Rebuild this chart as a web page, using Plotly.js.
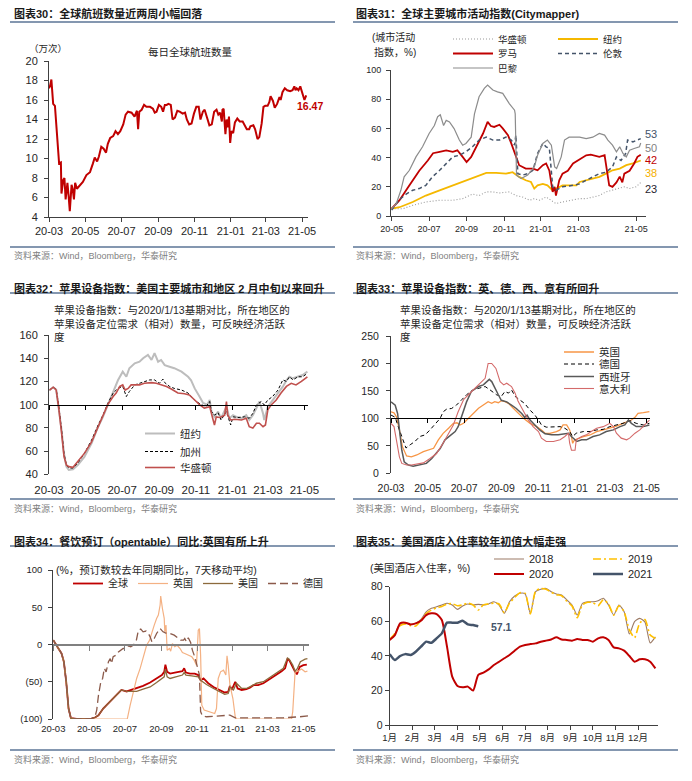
<!DOCTYPE html>
<html><head><meta charset="utf-8">
<script src="https://cdn.plot.ly/plotly-3.0.1.min.js"></script>
<style>html,body{margin:0;padding:0;background:#fff}#chart{width:692px;height:781px}</style>
</head><body><div id="chart"></div>
<script>
// ---------------- DATA ----------------
// Panel 30: daily global flights (万次), x = days since 2020-03-01
const p1Days=[0,2,4,7,10,12,15,17,20,21,24,26,28,31,33,35,38,40,42,44,47,52,57,63,69,74,77,81,84,88,92,96,99,103,108,112,116,120,125,129,133,139,144,148,150,152,156,160,164,170,175,178,181,185,189,192,195,198,201,205,208,212,216,220,225,229,232,236,240,244,248,252,255,259,262,266,270,274,278,282,285,288,291,292,294,297,299,301,303,305,307,310,313,317,321,326,330,333,337,339,344,347,351,354,358,361,364,368,371,373,377,380,384,388,390,393,397,401,406,410,413,415,417,420,423,425,428,430,433];
const p1Flights=[17.2,17.5,18.1,15.6,15.4,13.5,10.5,9.5,9.6,6.4,7.8,8.0,5.8,7.5,6.2,4.6,7.3,6.8,5.8,7.5,6.9,7.3,7.6,8.3,8.6,9.5,10.1,9.7,10.2,11.2,11.0,10.6,11.5,12.1,12.3,12.8,12.5,12.8,13.5,14.5,14.8,14.7,14.3,14.9,13.0,14.8,15.0,15.5,15.3,15.3,15.1,14.7,14.8,15.5,15.3,14.8,15.5,15.5,15.6,15.5,14.0,14.2,14.9,14.8,14.6,14.7,14.0,13.5,13.6,14.6,15.3,15.3,14.0,14.8,15.0,14.2,13.4,13.5,14.8,15.0,14.5,14.7,13.8,15.0,15.1,12.5,14.0,13.2,14.3,11.6,12.8,12.6,13.7,14.1,13.8,13.8,13.4,13.0,13.0,13.3,13.4,13.0,12.0,12.2,13.6,15.3,15.4,15.4,15.8,16.4,15.9,15.2,15.6,16.3,16.0,16.8,17.2,17.0,16.9,17.0,17.4,17.0,17.2,17.0,17.4,17.0,16.4,16.0,16.47];

// Panel 31: Citymapper index, x = days since 2020-05-01
const p2WasDays=[1,18,33,53,74,94,109,124,134,145,155,165,180,190,200,211,218,226,236,246,251,261,277,287,297,307,317,327,337,348,355,363,373,380];
const p2Was=[5,5,7.3,9.6,10.8,10.8,11.9,15,14,16.5,16.5,15.8,16.5,14,13,10.8,11.9,10.8,13,9.6,8.5,9.6,10.8,11.9,11.9,13,14,16.5,17.6,18.8,20,18.8,20,23];
const p2NyDays=[1,13,33,53,74,94,114,134,145,160,175,185,195,205,213,218,223,231,238,246,251,261,271,282,287,297,307,317,327,337,348,358,368,378,380];
const p2Ny=[5,6,9.6,14,17.6,21,24.5,28,29.5,29.5,29,30,26.8,24.5,23.3,18.8,21,22,21,17.6,18.8,21,21,21,23.3,24.5,25.6,26.8,29,31.3,32.5,34.8,36,37.5,38];
const p2RomeDays=[1,13,25,33,43,56,64,74,84,94,101,109,115,122,129,140,147,152,157,165,170,178,183,190,195,205,216,223,231,236,241,246,249,251,256,261,269,277,287,297,304,317,325,332,337,343,348,352,355,363,370,375,380];
const p2Rome=[5,10.8,19,24.5,31,38,43,44,45,44,45,40.5,37,40.5,47,56.5,64.5,61.6,61,62.5,60,55.4,49.7,40.5,34.8,32.5,32.5,31.3,34.8,36,31,16.5,20,14,24.5,29,31,36,39,41.6,42,40.5,41.6,21,20,23,27,23,29,31,36,40.5,42];
const p2LonDays=[1,8,15,23,33,43,53,63,74,84,94,104,114,124,134,145,155,165,175,183,188,190,193,200,208,216,223,231,236,241,246,251,261,277,287,297,307,317,327,337,343,350,357,360,368,375,380];
const p2Lon=[4,8.5,12,15,17.6,18.8,21,26.8,31.3,36,40.5,41.6,44,47.4,52,54,52,52,54,52,48.5,55.4,29,28,29,31.3,42.8,49.7,47.4,46.2,20,17.6,20,21,22,24.5,26.8,29,30,33.6,40.5,38,42.8,52,50.8,52,53];
const p2ParDays=[1,8,15,20,28,38,48,58,66,71,75,80,84,89,96,104,109,114,122,127,134,142,147,155,162,170,180,188,189,191,198,208,218,223,231,238,244,249,252,259,264,271,287,297,307,317,325,330,337,343,348,353,358,363,370,378,380];
const p2Par=[5,8.5,17.6,26.8,31.3,40.5,47.4,56.5,62,68,69.3,62,65.5,64.4,59.9,52,48.5,49.7,54,70,81.7,87.4,89.7,86.3,85,84,77,72.5,70,28,25.6,28,33.6,41.6,49.7,52,48.5,33.6,32.5,40.5,52,54,54,53,54,56.5,55.4,52,48.5,44,47.4,42.8,40.5,45,46.2,47.4,50];

// Panel 32: Apple mobility, US (x = days since 2020-03-01)
const p3NyDays=[1,7,12,16,21,25,29,33,40,48,59,71,82,90,98,107,115,123,129,134,143,151,157,165,171,176,182,187,193,201,209,221,232,237,243,251,257,264,268,271,276,282,287,296,301,307,312,321,329,334,340,346,351,357,359,365,373,382,390,396,401,407,415,423,431];
const p3Ny=[112.6,115,113,98.3,78,58,46.6,43.7,44.3,48,55,66.7,81,89.5,100,111,121,128.4,124,131.4,135.6,137,140,142.8,138.5,144.3,137,138.5,134,132.7,131.4,128.4,124,121,114,107,101.4,100,104,94,89.5,94,88.3,98.3,88.3,91,89.5,88.3,91,86.8,91,97,102.7,92.5,86.8,98.3,104,110,115.5,121,124,122.7,124,125.5,128.4];
const p3CaDays=[1,7,12,16,21,25,29,33,40,48,59,71,82,90,98,107,115,123,129,134,143,151,159,168,176,184,190,193,201,209,221,232,240,246,254,262,268,271,276,282,287,296,303,307,315,326,334,340,346,354,359,365,373,382,390,396,401,407,415,423,431];
const p3Ca=[112.6,115,113,99.7,78,58,48,45.4,45.4,49.5,58,69.5,82.5,91,101,110,114,115.7,107,111.3,117,118.4,120,121.3,121.3,118.4,122,119,115.7,114,112.6,110,105.5,102.7,100,98.3,102.7,94,91,93,86.8,94,82.5,89.5,88.9,89.5,88.3,92.5,99.7,102.7,99.7,104,107,112.6,121.3,120,124,121.3,124,124,127];
const p3WasDays=[1,7,12,16,21,25,29,33,40,48,59,71,82,90,98,107,112,118,123,127,132,137,143,151,159,171,179,187,196,204,215,226,234,243,251,259,268,273,276,279,285,293,296,298,303,310,321,329,334,340,346,351,357,361,365,371,379,387,396,404,412,421,431];
const p3Was=[112.6,115,112.6,98.3,75.5,55.3,48,46.6,46,51,58,68,81,89.5,100,107,110,115.7,117,112.6,114,117,117,117,118.4,119,118.4,117,115.7,113.5,110,109.4,108.4,104,100,97,98.3,88.3,82.5,89.5,89,91,102.7,91,86.8,87.4,86.8,88.3,81,79.8,84,84,81,82.5,95.5,100,104,110,115.7,118.4,117,120,124];

// Panel 33: Apple mobility, Europe (x = days since 2020-03-01)
const p4UkDays=[0,5,9,14,19,26,34,43,54,65,71,79,87,96,104,110,115,121,129,137,146,154,162,168,173,179,184,190,196,204,212,221,232,243,251,257,265,276,282,287,293,298,301,303,306,312,321,332,343,354,365,376,387,396,401,407,412,421,431];
const p4Uk=[112,110,103,79,48.5,31.5,30,33.4,39.4,42.5,45.5,60.7,72.8,82,91,92,88,91,100,109,118.3,124.4,130.5,127.4,130.5,128.6,132.3,130.5,127.4,118.3,109,100,91,85,79,72.8,72.8,75.8,79,88,88,79,66.7,54.6,60.7,63.7,66.7,69.8,75.8,79,82,86,91,94,97,102,109,110.4,112.3];
const p4DeDays=[0,7,12,18,25,32,40,48,57,65,73,82,87,93,101,109,118,126,137,148,157,165,176,184,190,196,201,207,215,223,232,240,246,251,259,271,282,290,298,303,309,321,332,343,354,365,376,387,398,409,421,431];
const p4De=[106,102,85,67,46,52,58,67,70,79,88,100,112,117,118,124,134,143,152,155,158,152,143,140,149,146,152,140,134,127,115,106,97,88,84,84,85,82,76,67,73,76,76,79,80,85,88,91,96,91,88,91];
const p4EsDays=[0,7,11,14,18,22,29,37,48,59,68,73,82,90,98,107,112,118,126,134,146,154,159,164,168,173,179,184,193,201,209,218,223,227,232,240,248,257,268,279,290,296,301,310,318,326,337,348,359,371,382,390,396,401,409,421,431];
const p4Es=[130,124,109,79,42,21,15,13,15,18,27,33,45,61,68,76,85,106,130,149,158,161,167,171,167,155,143,133,130,124,118,109,102,106,97,88,79,72,70,70,72,73,67,58,61,61,67,70,76,79,85,88,97,91,85,85,88];
const p4ItDays=[0,5,9,14,18,26,34,46,54,65,76,87,96,104,112,121,129,140,148,157,162,168,175,182,188,193,201,207,212,221,229,237,246,251,259,271,282,290,296,298,301,307,309,318,326,334,343,354,365,371,376,384,393,398,407,415,423,431];
const p4It=[91,85,61,30,18,15,15,18,19,27,36,55,73,88,112,134,143,155,164,173,200,200,191,167,161,164,158,146,131,112,97,85,76,64,58,58,61,67,73,55,42,42,61,67,70,76,82,85,91,85,73,64,61,64,73,79,88,97];

// Panel 34: OpenTable YoY (%), x = days since 2020-03-01
const p5GlbDays=[0,5,9,14,18,22,26,30,40,51,63,71,77,85,94,102,111,116,125,133,142,153,165,176,185,189,191,194,199,207,216,220,223,226,233,241,247,251,256,264,273,284,292,298,301,304,310,314,321,329,335,341,349,358,366,375,383,389,395,399,402,406,412,415,420,426,432];
const p5Glb=[5.8,-1,-5,-12,-23,-50,-86,-99,-100,-100,-100,-98,-95,-86,-79,-72,-66,-61,-63,-61,-59,-55.5,-51,-45.6,-41,-36.7,-27,-36.7,-39,-37.6,-36.7,-35.8,-32,-37.6,-39,-39,-41,-48,-45.6,-52,-57,-61,-64.4,-63.5,-55.5,-61,-50,-59,-61,-60,-58,-54.6,-54.6,-52,-48,-43.4,-39,-35.8,-32,-19.7,-21,-27.7,-36.7,-40,-30,-27.7,-27];
const p5UkDays=[0,5,9,14,18,22,26,30,40,126,131,136,142,148,154,159,164,168,172,176,179,182,183,186,189,190,192,194,198,200,203,207,211,216,220,224,230,236,240,244,247,249,251,253,257,267,275,278,281,285,290,294,296,298,301,306,310,312,406,408,412,417,423,429,433];
const p5Uk=[5.8,-1,-5,-12,-23,-50,-86,-99,-100,-100,-81.4,-63.5,-45.6,-32,-14.3,-1,5.8,17,26,35,39.4,53,65,48,35,17,26,-7.6,-5.4,-9,1.3,-3,-1,-5.4,-10.7,-12,-14.3,-16.5,-21,-27.7,19.2,21.5,-14.3,-81.4,-88,-90,-92.6,-86,-45.6,-36.7,-34.5,-41,-15.2,-27.7,-54.6,-72.5,-97,-100,-100,-90,-36.7,-35.8,-33,-36.7,-35.8];
const p5UsDays=[0,5,9,14,18,22,26,30,40,51,63,71,77,85,94,102,111,116,125,133,142,153,165,176,185,189,191,194,199,210,220,223,226,236,247,251,261,273,284,292,298,301,307,312,321,329,338,346,358,366,375,383,392,399,402,408,412,416,421,429,433];
const p5Us=[5.8,-1,-5,-12,-23,-50,-86,-99,-100,-100,-100,-98,-95,-86,-79,-72,-66,-61,-63,-63,-63,-60,-57,-51,-46.5,-43.4,-33,-43.4,-45.6,-43.4,-41,-37.6,-41,-42,-43.4,-48,-53.7,-59,-63.5,-67,-65.8,-57,-61,-52,-59,-59,-55.5,-52,-50,-45.6,-41,-36.7,-32,-18,-19.7,-27.7,-35.8,-32,-23,-19.7,-18.8];
const p5DeDays=[0,5,9,14,18,22,26,30,40,63,71,74,77,81,84,87,90,94,97,99,102,107,111,115,119,124,128,132,136,141,145,149,153,158,162,165,168,172,176,182,187,193,199,206,211,217,222,224,227,230,234,237,241,245,249,251,254,261,295,301,310,392,420,434];
const p5De=[5.8,-1,-5,-12,-23,-50,-86,-99,-100,-100,-97,-88,-68,-50,-45.6,-32,-36.7,-23,-19,-25.5,-16.5,-14.3,-10,-7.6,-5.4,-5.4,-1.8,-3,-1,3.6,19.2,20.6,17,18,14.8,10.3,3.6,8,14.8,21.5,17,14.8,14.8,12.5,9,5.8,5.8,8,3.6,9,2.7,-7.6,-16.5,-27.7,-41,-90,-95.7,-97,-95.7,-94.8,-98.4,-98.4,-97,-95.7];

// Panel 35: US hotel occupancy (%), x = week of year
const p6Weeks=[1,2,3,4,5,6,7,8,9,10,11,12,13,14,15,16,17,18,19,20,21,22,23,24,25,26,27,28,29,30,31,32,33,34,35,36,37,38,39,40,41,42,43,44,45,46,47,48,49,50,51,52];
const p6Y2018=[49.2,52.6,58.8,59.2,58.2,58.8,61.1,65.5,67.5,68.4,69.4,70.4,69.4,66.9,68.8,70,69.4,69.8,69.4,70,71.3,69.4,64.6,71.3,74.6,76.2,75.8,64.6,77.1,78.5,79,77.1,75.8,75.2,72.3,69.4,63.6,70.4,71.3,71.3,71.9,73.3,69.4,63.6,69.4,65.5,52.6,59.8,61.7,59.5,47.5,51];
const p6Y2019=[49.5,53,57.5,58.5,57.5,57.2,60.5,64.5,66.5,67.8,68.5,70,70.2,69,69.5,70.5,69.5,66.5,69.5,70,70.5,70,65,70.5,73.8,76.5,76.2,64.2,77.5,79,78.5,76.8,75.4,74.8,71.5,68.8,62,69.5,71,70.8,69,72.5,70,63.5,69,65.5,55,50.5,59,61,52,50];
const p6Y2020=[49.2,52,58.8,59.2,58.2,58.8,60.3,63.6,64.6,64.2,60.7,45.3,28,22.6,21.8,22.2,19.9,29,30.3,32.2,34.7,36.6,38.6,40.5,43,45.3,46.3,46.8,47.2,48.2,48.8,49.5,50.7,49.5,49.2,48.8,49.7,49.2,49.2,48.2,50.1,50.7,49.2,44.9,44.3,43,39.9,36.6,38,38,36.6,32.8];
const p6Weeks2021=[1,2,3,4,5,6,7,8,9,10,11,12,13,14,15,16,17,18];
const p6Y2021=[41,37.6,39.9,41,40.5,42.4,45.3,48.2,47.6,50.1,53,59.2,59.2,59.2,60.3,58.2,57.8,57.1];

// tick labels
const dayTicks20=[0,61,122,184,245,306,365,426];
const dayLabels20=['20-03','20-05','20-07','20-09','20-11','21-01','21-03','21-05'];
const p2TickDays=[1,58,115,172,228,285,373];
const p2TickLabels=['20-05','20-07','20-09','20-11','21-01','21-03','21-05'];
const p6TickWeeks=[1,5.33,9.67,14,18.33,22.67,27,31.33,35.67,40,44.33,48.67];
const p6TickLabels=['1月','2月','3月','4月','5月','6月','7月','8月','9月','10月','11月','12月'];

// ---------------- BUILD ----------------
const W=692,H=781;
const px=x=>x/W, py=y=>1-y/H;
const FONT='"Liberation Sans", Arial, "Noto Sans CJK SC", sans-serif';
const traces=[];
function add(x,y,name,color,width,dash,xa,ya,legend,shape){
  const t={type:'scatter',mode:'lines',x:x,y:y,name:name,
    line:{color:color,width:width,dash:dash||'solid',shape:shape||'linear',smoothing:0.6},
    xaxis:xa,yaxis:ya,hoverinfo:'skip',showlegend:!!legend};
  if(legend) t.legend=legend;
  traces.push(t);
}
// panel 1
add(p1Days,p1Flights,'每日全球航班数量','#C00000',2,null,'x','y');
// panel 2
add(p2WasDays,p2Was,'华盛顿','#9A9A9A',1.1,'1px,2px','x2','y2','legend');
add(p2NyDays,p2Ny,'纽约','#F5B800',1.8,null,'x2','y2','legend');
add(p2RomeDays,p2Rome,'罗马','#C00000',1.8,null,'x2','y2','legend2');
add(p2LonDays,p2Lon,'伦敦','#44546A',1.5,'4px,3px','x2','y2','legend2');
add(p2ParDays,p2Par,'巴黎','#8C8C8C',1.2,null,'x2','y2','legend3');
// panel 3
add(p3NyDays,p3Ny,'纽约','#BDBDBD',2,null,'x3','y3','legend4');
add(p3CaDays,p3Ca,'加州','#000000',1,'3px,2px','x3','y3','legend5');
add(p3WasDays,p3Was,'华盛顿','#C0504D',1.6,null,'x3','y3','legend6');
// panel 4
add(p4UkDays,p4Uk,'英国','#F79646',1.3,null,'x4','y4','legend7');
add(p4DeDays,p4De,'德国','#000000',1,'4px,3px','x4','y4','legend8');
add(p4EsDays,p4Es,'西班牙','#595959',1.5,null,'x4','y4','legend9');
add(p4ItDays,p4It,'意大利','#D46A6A',1.1,null,'x4','y4','legend10');
// panel 5
add(p5GlbDays,p5Glb,'全球','#C00000',1.8,null,'x5','y5','legend11');
add(p5UkDays,p5Uk,'英国','#F4B183',1.2,null,'x5','y5','legend11');
add(p5UsDays,p5Us,'美国','#8C6A3C',1.3,null,'x5','y5','legend11');
add(p5DeDays,p5De,'德国','#8B5A4A',1.3,'8px,4px','x5','y5','legend11');
// panel 6
add(p6Weeks,p6Y2018,'2018','#9C7B66',1.1,null,'x6','y6','legend12','spline');
add(p6Weeks,p6Y2019,'2019','#FFC000',1.6,'8px,3px,2px,3px','x6','y6','legend12','spline');
add(p6Weeks,p6Y2020,'2020','#C00000',2,null,'x6','y6','legend13','spline');
add(p6Weeks2021,p6Y2021,'2021','#44546A',2.5,null,'x6','y6','legend13','spline');
// empty traces to carry overlay axes (reference lines with tick marks)
traces.push({type:'scatter',x:[],y:[],xaxis:'x7',yaxis:'y3',showlegend:false,hoverinfo:'skip'});
traces.push({type:'scatter',x:[],y:[],xaxis:'x8',yaxis:'y4',showlegend:false,hoverinfo:'skip'});
traces.push({type:'scatter',x:[],y:[],xaxis:'x9',yaxis:'y5',showlegend:false,hoverinfo:'skip'});

function ax(o,fs){return Object.assign({showgrid:false,zeroline:false,fixedrange:true,showline:true,
  linecolor:'#404040',linewidth:1,ticks:'outside',ticklen:4,tickcolor:'#404040',tickwidth:1,
  tickfont:{family:FONT,size:fs||11,color:'#262626'}},o);}
function posAt(dom,range,v){return dom[0]+(v-range[0])/(range[1]-range[0])*(dom[1]-dom[0]);}

const d1x=[px(49),px(308)], d1y=[py(217),py(61)];
const d2x=[px(391),px(646)], d2y=[py(216),py(70)];
const d3x=[px(49),px(308)], d3y=[py(474.3),py(335)];
const d4x=[px(391),px(650)], d4y=[py(473.3),py(336)];
const d5x=[px(53.3),px(308.6)], d5y=[py(719),py(570)];
const d6x=[px(389.7),px(658)], d6y=[py(725),py(586.7)];
const r3y=[40,160], r4y=[0,250], r5y=[-100,100];

const layout={width:W,height:H,margin:{l:0,r:0,t:0,b:0},paper_bgcolor:'#fff',plot_bgcolor:'#fff',
  font:{family:FONT,color:'#262626'},showlegend:true,
  xaxis:ax({domain:d1x,range:[0,436],anchor:'y',tickvals:dayTicks20,ticktext:dayLabels20},11),
  yaxis:ax({domain:d1y,range:[4,20],anchor:'x',dtick:2,ticklabelstandoff:4},11),
  xaxis2:ax({domain:d2x,range:[0,388],anchor:'y2',tickvals:p2TickDays,ticktext:p2TickLabels},9),
  yaxis2:ax({domain:d2y,range:[0,100],anchor:'x2',dtick:20,ticklabelstandoff:3},9),
  xaxis3:ax({domain:d3x,range:[0,432],anchor:'y3',tickvals:dayTicks20,ticktext:dayLabels20,showline:false,ticks:'',ticklabelstandoff:7},11.5),
  yaxis3:ax({domain:d3y,range:r3y,anchor:'x3',dtick:20,ticklabelstandoff:4},11),
  xaxis4:ax({domain:d4x,range:[0,432],anchor:'y4',tickvals:dayTicks20,ticktext:dayLabels20,showline:false,ticks:'',ticklabelstandoff:7},10.5),
  yaxis4:ax({domain:d4y,range:r4y,anchor:'x4',dtick:50,ticklabelstandoff:5},10.5),
  xaxis5:ax({domain:d5x,range:[0,435],anchor:'y5',tickvals:dayTicks20,ticktext:dayLabels20,showline:false,ticks:'',ticklabelstandoff:2},9.5),
  yaxis5:ax({domain:d5y,range:r5y,anchor:'x5',tickvals:[-100,-50,0,50,100],ticktext:['(100)','(50)','0','50','100'],ticklabelstandoff:4},9.5),
  xaxis6:ax({domain:d6x,range:[1,52.5],anchor:'y6',tickvals:p6TickWeeks,ticktext:p6TickLabels},9.5),
  yaxis6:ax({domain:d6y,range:[0,80],anchor:'x6',dtick:20},10.5),
  xaxis7:ax({overlaying:'x3',anchor:'free',position:posAt(d3y,r3y,100),range:[0,432],tickvals:dayTicks20,showticklabels:false,linecolor:'#000',tickcolor:'#000'}),
  xaxis8:ax({overlaying:'x4',anchor:'free',position:posAt(d4y,r4y,100),range:[0,432],tickvals:dayTicks20,showticklabels:false,linecolor:'#000',tickcolor:'#000'}),
  xaxis9:ax({overlaying:'x5',anchor:'free',position:posAt(d5y,r5y,0),range:[0,435],tickvals:dayTicks20,showticklabels:false,linecolor:'#808080',linewidth:2,tickcolor:'#808080',ticklen:5}),
  annotations:[],shapes:[]
};
function lg(x,y,fs,extra){return Object.assign({x:px(x),y:py(y),xanchor:'left',yanchor:'middle',orientation:'h',
  bgcolor:'rgba(0,0,0,0)',borderwidth:0,font:{family:FONT,size:fs,color:'#262626'},traceorder:'normal'},extra||{});}
layout.legend=lg(448,39,9.5,{itemwidth:40,entrywidth:50});
layout.legend2=lg(448,53.5,9.5,{itemwidth:40,entrywidth:50});
layout.legend3=lg(448,68,9.5,{itemwidth:40,entrywidth:50});
layout.legend4=lg(140,433.5,10.5);
layout.legend5=lg(140,451.5,10.5);
layout.legend6=lg(140,467.5,10.5);
layout.legend7=lg(559,352,10.5);
layout.legend8=lg(559,364,10.5);
layout.legend9=lg(559,376.5,10.5);
layout.legend10=lg(559,388.5,10.5);
layout.legend11=lg(68,583.5,10);
layout.legend12=lg(489,559,11,{entrywidth:54});
layout.legend13=lg(489,574,11,{entrywidth:54});

function ann(text,x,y,o){layout.annotations.push(Object.assign({text:text,xref:'paper',yref:'paper',x:px(x),y:py(y),
  showarrow:false,xanchor:'left',yanchor:'middle',font:{family:FONT,size:10.5,color:'#262626'}},o||{}));}
function hline(x0,x1,y){layout.shapes.push({type:'line',xref:'paper',yref:'paper',x0:px(x0),x1:px(x1),y0:py(y),y1:py(y),line:{color:'#8497B0',width:2}});}
const SRC='资料来源：Wind，Bloomberg，华泰研究';
const titles=[['图表30：全球航班数量近两周小幅回落',12,14],['图表31：全球主要城市活动指数(Citymapper)',354,14],
  ['图表32：苹果设备指数：美国主要城市和地区 2 月中旬以来回升',12,289],['图表33：苹果设备指数：英、德、西、意有所回升',354,289],
  ['图表34：餐饮预订（opentable）同比:英国有所上升',12,541],['图表35：美国酒店入住率较年初值大幅走强',354,541]];
const underY=[22,22,293,293,546,546], srcLineY=[247,247,499,499,750,750], srcY=[255,255,508,508,759,759];
titles.forEach((t,i)=>{
  ann('<b>'+t[0]+'</b>',t[1],t[2],{font:{family:FONT,size:11,color:'#1a1a1a'}});
  const left=i%2===0;
  hline(left?10:353,left?335:678,underY[i]);
  hline(left?10:353,left?335:678,srcLineY[i]);
  ann(SRC,left?12:354,srcY[i],{font:{family:FONT,size:9,color:'#7F7F7F'}});
});
// panel 1 texts
ann('（万次）',48,48,{xanchor:'center',font:{family:FONT,size:9.5,color:'#262626'}});
ann('每日全球航班数量',190,52,{xanchor:'center',font:{family:FONT,size:10.5,color:'#262626'}});
ann('<b>'+p1Flights[p1Flights.length-1].toFixed(2)+'</b>',310,106,{xanchor:'center',font:{family:FONT,size:10.5,color:'#C00000'}});
// panel 2 texts
ann('(城市活动',370,37,{font:{family:FONT,size:10,color:'#262626'}});
ann('指数，%)',372,52,{font:{family:FONT,size:10,color:'#262626'}});
const endLab=[[p2Lon,'#44546A',134],[p2Par,'#7F7F7F',147.5],[p2Rome,'#C00000',160],[p2Ny,'#F5B000',173],[p2Was,'#1F2430',189]];
endLab.forEach(e=>ann(String(Math.round(e[0][e[0].length-1])),643,e[2],{font:{family:FONT,size:11,color:e[1]}}));
// panel 3/4 notes
const note='苹果设备指数：与2020/1/13基期对比，所在地区的<br>苹果设备定位需求（相对）数量，可反映经济活跃<br>度';
ann(note,52,323.5,{align:'left',font:{family:FONT,size:10.5,color:'#262626'}});
ann(note,398,323.5,{align:'left',font:{family:FONT,size:10.5,color:'#262626'}});
// panel 5
ann('(%，预订数较去年同期同比，7天移动平均)',54,569.5,{font:{family:FONT,size:10.5,color:'#262626'}});
// panel 6
ann('(美国酒店入住率，%)',368,567.5,{font:{family:FONT,size:10.5,color:'#262626'}});
ann('<b>'+p6Y2021[p6Y2021.length-1].toFixed(1)+'</b>',501,627,{xanchor:'center',font:{family:FONT,size:10.5,color:'#44546A'}});

Plotly.newPlot('chart',traces,layout,{staticPlot:true,displayModeBar:false});
</script></body></html>
